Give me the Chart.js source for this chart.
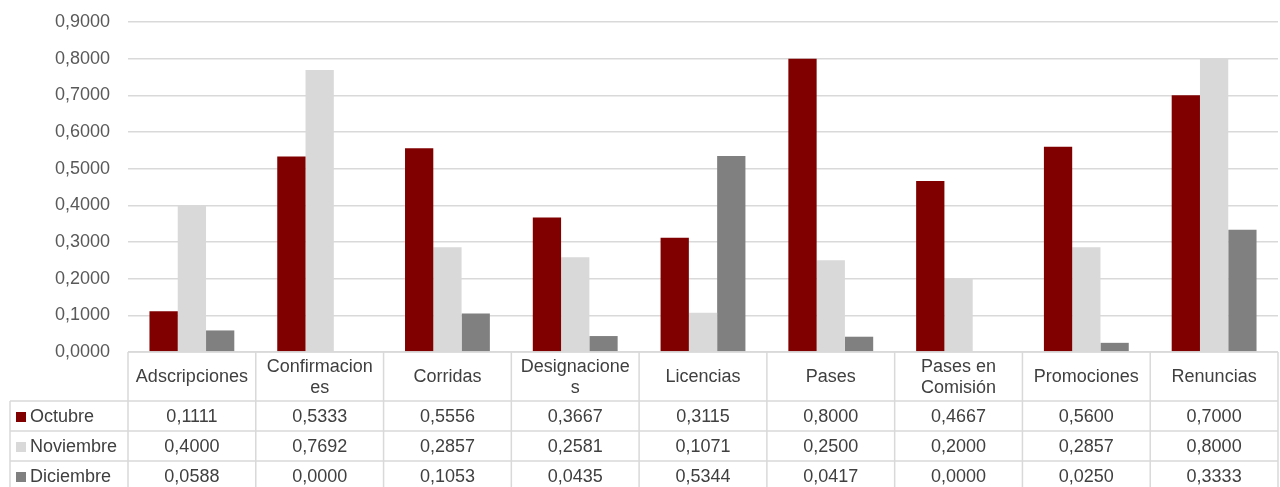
<!DOCTYPE html>
<html>
<head>
<meta charset="utf-8">
<script src="https://cdn.jsdelivr.net/npm/chart.js@4/dist/chart.umd.min.js"></script>
<style>
  html, body { margin: 0; padding: 0; background: #fff; }
  #wrap { width: 1280px; height: 487px; }
</style>
</head>
<body>
<div id="wrap"><canvas id="bajasChart" width="1280" height="487"></canvas></div>
<script>
// categories (each entry = lines of the table header)
var categories = [
    ["Adscripciones"],
    ["Confirmacion", "es"],
    ["Corridas"],
    ["Designacione", "s"],
    ["Licencias"],
    ["Pases"],
    ["Pases en", "Comisión"],
    ["Promociones"],
    ["Renuncias"]
];
var octubre   = [0.1111, 0.5333, 0.5556, 0.3667, 0.3115, 0.8000, 0.4667, 0.5600, 0.7000];
var noviembre = [0.4000, 0.7692, 0.2857, 0.2581, 0.1071, 0.2500, 0.2000, 0.2857, 0.8000];
var diciembre = [0.0588, 0.0000, 0.1053, 0.0435, 0.5344, 0.0417, 0.0000, 0.0250, 0.3333];
var yTicks = [0, 0.1, 0.2, 0.3, 0.4, 0.5, 0.6, 0.7, 0.8, 0.9];

var FONT = "'Liberation Sans', Arial, sans-serif";
var FSIZE = 18;

function fmt(v) {
    return v.toFixed(4).replace('.', ',');
}

// draws the data table under the plot, aligned to the x scale
var dataTable = {
    id: 'dataTable',
    afterDraw: function(chart) {
        var ctx = chart.ctx;
        var area = chart.chartArea;
        var xs = chart.scales.x;
        var n = categories.length;
        var colW = (area.right - area.left) / n;
        var top = area.bottom;
        var headBottom = top + 49;
        var rowH = 30;
        var leftX = 10;

        ctx.save();
        ctx.strokeStyle = '#d9d9d9';
        ctx.lineWidth = 1.5;
        ctx.beginPath();
        // horizontal lines
        ctx.moveTo(area.left, top); ctx.lineTo(area.right, top);
        for (var r = 0; r <= 3; r++) {
            var y = headBottom + r * rowH;
            ctx.moveTo(leftX, y); ctx.lineTo(area.right, y);
        }
        // vertical lines
        for (var c = 0; c <= n; c++) {
            var x = area.left + c * colW;
            ctx.moveTo(x, top); ctx.lineTo(x, chart.height + 5);
        }
        ctx.moveTo(leftX, headBottom); ctx.lineTo(leftX, chart.height + 5);
        ctx.stroke();

        ctx.font = FSIZE + 'px ' + FONT;
        ctx.fillStyle = '#404040';
        ctx.textAlign = 'center';
        ctx.textBaseline = 'middle';
        // header
        categories.forEach(function(lines, i) {
            var cx = xs.getPixelForValue(i);
            var cy = (top + headBottom) / 2 + 1;
            var lh = 21;
            lines.forEach(function(t, k) {
                ctx.fillText(t, cx, cy + (k - (lines.length - 1) / 2) * lh);
            });
        });
        // rows
        chart.data.datasets.forEach(function(ds, r) {
            var cy = headBottom + r * rowH + rowH / 2 + 1;
            ctx.fillStyle = ds.backgroundColor;
            ctx.fillRect(16, cy - 5, 10, 10);
            ctx.fillStyle = '#404040';
            ctx.textAlign = 'left';
            ctx.fillText(ds.label, 30, cy);
            ctx.textAlign = 'center';
            ds.data.forEach(function(v, i) {
                ctx.fillText(fmt(v), xs.getPixelForValue(i), cy);
            });
        });
        ctx.restore();
    }
};

var ctx = document.getElementById("bajasChart").getContext('2d');
var myBarChart = new Chart(ctx, {
    type: 'bar',
    data: {
        labels: categories,
        datasets: [
            { label: "Octubre",   data: octubre,   backgroundColor: '#800000' },
            { label: "Noviembre", data: noviembre, backgroundColor: '#d9d9d9' },
            { label: "Diciembre", data: diciembre, backgroundColor: '#808080' }
        ]
    },
    options: {
        responsive: false,
        animation: false,
        categoryPercentage: 0.664,
        barPercentage: 1,
        layout: { padding: { left: 0, right: 2, top: 22, bottom: 135 } },
        plugins: {
            legend: { display: false },
            tooltip: { enabled: false }
        },
        scales: {
            x: {
                display: false
            },
            y: {
                min: 0,
                max: 0.9,
                afterFit: function(scale) {
                    scale.width = 128;
                    scale.paddingTop = 0;
                    scale.paddingBottom = 0;
                },
                afterBuildTicks: function(scale) {
                    scale.ticks = yTicks.map(function(v) { return { value: v }; });
                },
                border: { display: false },
                grid: { color: '#d9d9d9', lineWidth: 1.5, drawTicks: false },
                ticks: {
                    padding: 18,
                    color: '#595959',
                    font: { family: FONT, size: FSIZE },
                    callback: function(v) { return fmt(v); }
                }
            }
        }
    },
    plugins: [dataTable]
});
</script>
</body>
</html>
